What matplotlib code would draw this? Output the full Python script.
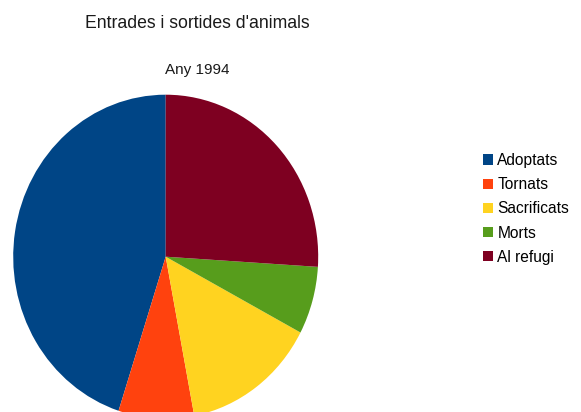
import matplotlib
matplotlib.use('Agg')
import matplotlib.pyplot as plt

# dades
labels = ['Adoptats', 'Tornats', 'Sacrificats', 'Morts', 'Al refugi']
values = [180, 32, 57, 27, 104]
colors = ['#004586', '#ff420e', '#ffd320', '#579d1c', '#7e0021']

plt.rcParams['font.family'] = ['Liberation Sans', 'DejaVu Sans']

W, H = 581, 412
fig = plt.figure(figsize=(W / 100, H / 100), dpi=100)

# pastís una mica allargat en vertical (com la imatge original)
cx, cy, rx, ry = 165.7, 256.7, 152.5, 162
ax = fig.add_axes([(cx - rx) / W, (H - cy - ry) / H, 2 * rx / W, 2 * ry / H])
wedges, _ = ax.pie(values, colors=colors, startangle=90, counterclock=True,
                   radius=1, wedgeprops=dict(linewidth=0))
ax.set_xlim(-1, 1)
ax.set_ylim(-1, 1)
ax.set_aspect('auto')
ax.axis('off')

fig.text(197 / W, 1 - 24 / H, "Entrades i sortides d'animals", ha='center', va='center',
         fontsize=12.7, color='#1a1a1a')
fig.text(197 / W, 1 - 70 / H, 'Any 1994', ha='center', va='center',
         fontsize=11, color='#1a1a1a')

fig.legend(wedges, labels, loc='upper left', bbox_to_anchor=(483 / W, 1 - 153 / H),
           frameon=False, fontsize=11.2, handlelength=0.62, handleheight=0.62,
           handletextpad=0.3, labelspacing=0.59, borderpad=0, borderaxespad=0)

fig.savefig('out.png', dpi=100)
